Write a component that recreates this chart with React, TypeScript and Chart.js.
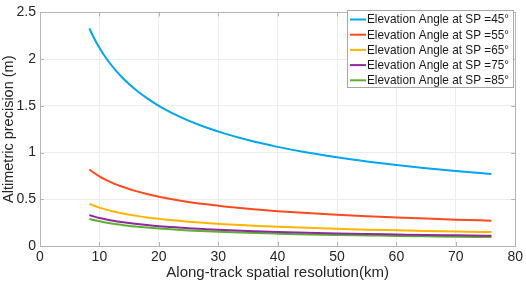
import React, { useEffect, useRef } from "react";
import { Chart, registerables } from "chart.js";

Chart.register(...registerables);

const resolutionKm = [8.3, 9, 10, 11, 12, 13, 14, 16, 18, 20, 22, 25, 28, 31, 35, 40, 45, 50, 55, 60, 65, 70, 76];

const elev45 = [2.329, 2.237, 2.122, 2.023, 1.937, 1.861, 1.793, 1.678, 1.582, 1.5, 1.431, 1.342, 1.268, 1.205, 1.134, 1.061, 1.0, 0.949, 0.905, 0.866, 0.832, 0.802, 0.77];
const elev55 = [0.819, 0.787, 0.746, 0.711, 0.681, 0.654, 0.631, 0.59, 0.556, 0.528, 0.503, 0.472, 0.446, 0.424, 0.399, 0.373, 0.352, 0.334, 0.318, 0.305, 0.293, 0.282, 0.271];
const elev65 = [0.451, 0.433, 0.411, 0.392, 0.375, 0.361, 0.347, 0.325, 0.306, 0.291, 0.277, 0.26, 0.246, 0.233, 0.22, 0.206, 0.194, 0.184, 0.175, 0.168, 0.161, 0.155, 0.149];
const elev75 = [0.33, 0.317, 0.3, 0.286, 0.274, 0.263, 0.254, 0.238, 0.224, 0.212, 0.203, 0.19, 0.18, 0.171, 0.161, 0.15, 0.142, 0.134, 0.128, 0.123, 0.118, 0.114, 0.109];
const elev85 = [0.29, 0.278, 0.264, 0.252, 0.241, 0.232, 0.223, 0.209, 0.197, 0.187, 0.178, 0.167, 0.158, 0.15, 0.141, 0.132, 0.124, 0.118, 0.113, 0.108, 0.104, 0.1, 0.096];

const seriesLabels = [
  "Elevation Angle at SP =45°",
  "Elevation Angle at SP =55°",
  "Elevation Angle at SP =65°",
  "Elevation Angle at SP =75°",
  "Elevation Angle at SP =85°",
];
const seriesColors = ["#00A6F0", "#FF4A1E", "#FFB400", "#8E2A9A", "#5CB030"];
const seriesValues = [elev45, elev55, elev65, elev75, elev85];

const xTitle = "Along-track spatial resolution(km)";
const yTitle = "Altimetric precision (m)";

const FONT = "'Liberation Sans', Arial, sans-serif";

const decorPlugin = {
  id: "decor",
  afterDraw(chart: any) {
    const { ctx, chartArea: a, scales } = chart;
    ctx.save();
    ctx.strokeStyle = "#b4b4b4";
    ctx.lineWidth = 1;
    ctx.strokeRect(Math.round(a.left) + 0.5, Math.round(a.top) + 0.5, Math.round(a.right - a.left), Math.round(a.bottom - a.top));
    const tl = 4;
    scales.x.ticks.forEach((t: any) => {
      const px = Math.round(scales.x.getPixelForValue(t.value)) + 0.5;
      ctx.beginPath();
      ctx.moveTo(px, a.bottom);
      ctx.lineTo(px, a.bottom - tl);
      ctx.moveTo(px, a.top);
      ctx.lineTo(px, a.top + tl);
      ctx.stroke();
    });
    scales.y.ticks.forEach((t: any) => {
      const py = Math.round(scales.y.getPixelForValue(t.value)) + 0.5;
      ctx.beginPath();
      ctx.moveTo(a.left, py);
      ctx.lineTo(a.left + tl, py);
      ctx.moveTo(a.right, py);
      ctx.lineTo(a.right - tl, py);
      ctx.stroke();
    });
    ctx.fillStyle = "#262626";
    ctx.font = `15px ${FONT}`;
    ctx.textAlign = "center";
    ctx.textBaseline = "middle";
    ctx.fillText(xTitle, (a.left + a.right) / 2, 273);
    ctx.save();
    ctx.translate(9, (a.top + a.bottom) / 2);
    ctx.rotate(-Math.PI / 2);
    ctx.font = `14.5px ${FONT}`;
    ctx.fillText(yTitle, 0, 0);
    ctx.restore();
    const lx = 347, ly = 10, lw = 166, lh = 77;
    ctx.fillStyle = "#ffffff";
    ctx.fillRect(lx, ly, lw, lh);
    ctx.strokeStyle = "#a8a8a8";
    ctx.lineWidth = 1;
    ctx.strokeRect(lx + 0.5, ly + 0.5, lw, lh);
    ctx.font = `12.6px ${FONT}`;
    ctx.textAlign = "left";
    chart.data.datasets.forEach((ds: any, i: number) => {
      const cy = ly + 9.5 + i * 15.2;
      ctx.strokeStyle = ds.borderColor;
      ctx.lineWidth = 2;
      ctx.beginPath();
      ctx.moveTo(lx + 3, cy);
      ctx.lineTo(lx + 19, cy);
      ctx.stroke();
      ctx.fillStyle = "#1a1a1a";
      ctx.fillText(ds.label, lx + 20, cy + 0.5, 142);
    });
    ctx.restore();
  },
};

export default function App() {
  const ref = useRef<HTMLCanvasElement>(null);
  useEffect(() => {
    if (!ref.current) return;
    const chart = new Chart(ref.current, {
      type: "line",
      data: {
        datasets: seriesValues.map((vals, i) => ({
          label: seriesLabels[i],
          data: resolutionKm.map((x, j) => ({ x, y: vals[j] })),
          borderColor: seriesColors[i],
          backgroundColor: seriesColors[i],
          borderWidth: 2,
          pointRadius: 0,
          cubicInterpolationMode: "monotone" as const,
          fill: false,
        })),
      },
      options: {
        animation: false,
        responsive: false,
        maintainAspectRatio: false,
        layout: { padding: { left: 0, right: 10, top: 6, bottom: 0 } },
        plugins: { legend: { display: false }, tooltip: { enabled: false } },
        scales: {
          x: {
            type: "linear",
            min: 0,
            max: 80,
            ticks: { stepSize: 10, color: "#262626", font: { family: FONT, size: 14 }, padding: 3, maxRotation: 0 },
            grid: { color: "#ececec", drawTicks: false },
            border: { display: false },
            afterFit: (s: any) => { s.height = 41; },
          },
          y: {
            type: "linear",
            min: 0,
            max: 2.5,
            ticks: {
              stepSize: 0.5,
              color: "#262626",
              font: { family: FONT, size: 14 },
              padding: 4,
              callback: (v: any) => String(Number(v)),
            },
            grid: { color: "#ececec", drawTicks: false },
            border: { display: false },
            afterFit: (s: any) => { s.width = 40; },
          },
        },
      },
      plugins: [decorPlugin],
    });
    return () => chart.destroy();
  }, []);
  return (
    <div style={{ position: "fixed", left: 0, top: 0, width: 526, height: 287, background: "#fff" }}>
      <canvas ref={ref} width={526} height={287} style={{ width: 526, height: 287 }} />
    </div>
  );
}
